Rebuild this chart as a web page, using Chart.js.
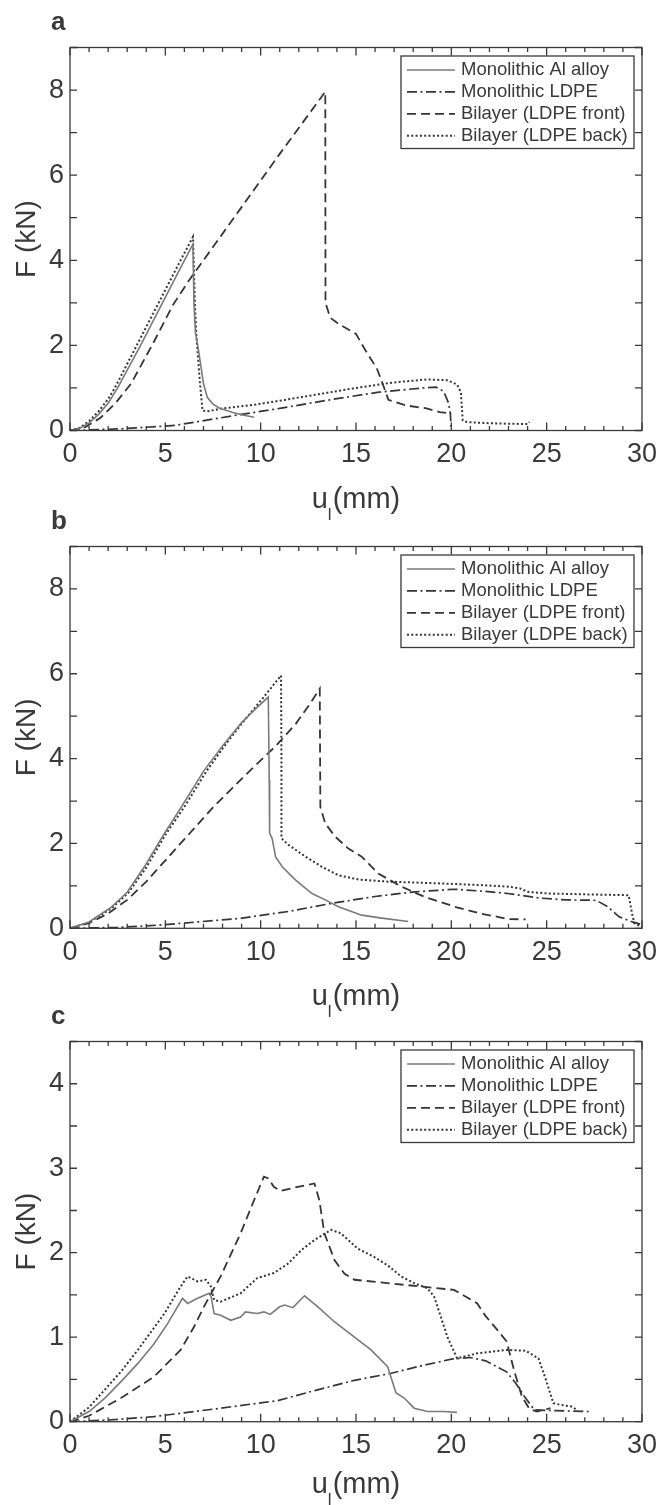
<!DOCTYPE html>
<html>
<head>
<meta charset="utf-8">
<script src="https://cdn.jsdelivr.net/npm/chart.js@4.4.1/dist/chart.umd.min.js"></script>
<style>
  body { margin: 0; background: #fff; width: 665px; height: 1505px; position: relative; overflow: hidden; }
  canvas { position: absolute; left: 0; }
</style>
</head>
<body>
<canvas id="panelA" width="665" height="525" style="top:0"></canvas>
<canvas id="panelB" width="665" height="525" style="top:498px"></canvas>
<canvas id="panelC" width="665" height="512" style="top:993px"></canvas>
<script>
// Force (kN) against displacement u_l (mm), pairs of [u, F]

const seriesNames = ['Monolithic Al alloy', 'Monolithic LDPE', 'Bilayer (LDPE front)', 'Bilayer (LDPE back)'];
const xTickLabels = [0, 5, 10, 15, 20, 25, 30];
const yTickLabelsAB = [0, 2, 4, 6, 8];
const yTickLabelsC = [0, 1, 2, 3, 4];

// panel a
const alloyA = [[0, 0], [0.5, 0.05], [1.0, 0.18], [1.5, 0.38], [2.0, 0.64], [2.5, 1.0], [3.7, 2.0], [4.85, 3.0],
  [6.0, 4.0], [6.45, 4.38], [6.5, 3.0], [6.58, 2.3], [6.7, 2.0], [6.87, 1.5], [7.0, 1.1], [7.2, 0.78],
  [7.5, 0.62], [7.82, 0.53], [8.5, 0.43], [9.0, 0.37], [9.65, 0.31]];
const ldpeA = [[0, 0], [2.7, 0.04], [5.5, 0.12], [8.6, 0.35], [11, 0.52], [14, 0.75], [16.2, 0.9], [18.5, 1.0],
  [19.2, 1.02], [19.6, 0.92], [19.85, 0.65], [19.95, 0.39], [20.0, 0]];
const frontA = [[0, 0], [0.8, 0.08], [1.6, 0.3], [2.4, 0.65], [3.2, 1.1], [4.3, 2.0], [5.4, 2.95], [6.2, 3.5],
  [7.0, 4.0], [8.6, 5.0], [11, 6.5], [13.39, 7.96], [13.4, 3.0], [13.65, 2.65], [14.1, 2.5], [15.0, 2.27],
  [15.5, 1.88], [16.1, 1.45], [16.4, 1.1], [16.7, 0.72], [17.6, 0.59], [18.7, 0.52], [19.4, 0.43], [20.0, 0.4]];
const backA = [[0, 0], [0.5, 0.06], [1.0, 0.22], [1.5, 0.45], [2.0, 0.74], [2.35, 1.0], [3.5, 2.0], [4.65, 3.0],
  [5.8, 4.0], [6.45, 4.55], [6.55, 3.0], [6.62, 2.3], [6.8, 1.2], [6.95, 0.47], [7.2, 0.45], [8.0, 0.52],
  [9.6, 0.6], [11, 0.7], [13, 0.85], [15, 1.0], [17, 1.13], [18.7, 1.2], [19.8, 1.18], [20.3, 1.08],
  [20.5, 0.9], [20.6, 0.24], [20.8, 0.2], [22, 0.17], [24.0, 0.15], [24.1, 0.2]];

// panel b
const alloyB = [[0, 0], [1, 0.15], [2.17, 0.5], [3.0, 0.85], [3.9, 1.45], [4.9, 2.2], [5.9, 2.9], [7.0, 3.7],
  [8.0, 4.3], [9.0, 4.85], [9.8, 5.2], [10.4, 5.45], [10.45, 3.5], [10.47, 2.24], [10.6, 2.12], [10.78, 1.69],
  [11.13, 1.45], [11.82, 1.14], [12.69, 0.82], [13.39, 0.67], [14.08, 0.51], [15.3, 0.31], [16.35, 0.24],
  [17.74, 0.16]];
const ldpeB = [[0, 0], [2.5, 0.02], [4.8, 0.08], [8.87, 0.23], [11.5, 0.4], [13.74, 0.59], [16, 0.75], [18.08, 0.86],
  [20.17, 0.92], [21.8, 0.87], [22.95, 0.82], [24.7, 0.71], [26, 0.67], [27.6, 0.66], [28.2, 0.51],
  [28.8, 0.27], [29.5, 0.15], [29.9, 0.1]];
const frontB = [[0, 0], [1, 0.12], [2, 0.35], [3, 0.67], [4, 1.1], [5.2, 1.7], [6.5, 2.35], [7.5, 2.85], [8.5, 3.3],
  [9.63, 3.8], [10.8, 4.3], [11.84, 4.82], [12.6, 5.3], [13.1, 5.65], [13.13, 2.86], [13.39, 2.47],
  [13.91, 2.16], [14.6, 1.88], [15.3, 1.69], [16.17, 1.29], [17.39, 0.98], [18.6, 0.74], [20.17, 0.51],
  [21.5, 0.35], [22.43, 0.27], [22.9, 0.22], [23.9, 0.21]];
const backB = [[0, 0], [1, 0.14], [2.2, 0.48], [3.05, 0.83], [3.95, 1.4], [5.0, 2.2], [6.05, 2.9], [7.15, 3.7],
  [8.1, 4.3], [9.05, 4.85], [10.07, 5.4], [11.07, 5.96], [11.09, 4.0], [11.09, 2.12], [11.48, 1.96],
  [12.35, 1.69], [13.21, 1.45], [14.08, 1.25], [15.13, 1.15], [16.7, 1.1], [19.3, 1.06], [21.5, 1.02],
  [23, 0.98], [23.6, 0.94], [24.0, 0.86], [25.1, 0.82], [27, 0.8], [29.3, 0.78], [29.5, 0.3], [29.6, 0.12],
  [29.9, 0.05]];

// panel c
const alloyC = [[0, 0], [1, 0.12], [1.83, 0.28], [2.7, 0.48], [3.56, 0.69], [4.4, 0.92], [5.12, 1.16], [5.9, 1.46],
  [6.17, 1.4], [6.69, 1.46], [7.3, 1.52], [7.4, 1.48], [7.56, 1.28], [7.9, 1.26], [8.43, 1.2], [8.95, 1.24],
  [9.2, 1.3], [9.82, 1.28], [10.17, 1.3], [10.5, 1.27], [11.0, 1.36], [11.26, 1.38], [11.69, 1.35],
  [12.3, 1.49], [13.0, 1.36], [13.88, 1.18], [14.92, 1.0], [15.79, 0.85], [16.66, 0.65], [17.1, 0.34],
  [17.53, 0.28], [18.05, 0.16], [18.75, 0.12], [19.6, 0.12], [20.3, 0.11]];
const ldpeC = [[0, 0], [2, 0.02], [4.4, 0.06], [7.9, 0.16], [10.9, 0.25], [12.69, 0.36], [14.92, 0.49], [16.8, 0.57],
  [18.2, 0.65], [20.0, 0.74], [21.0, 0.76], [21.8, 0.72], [22.9, 0.59], [23.4, 0.45], [23.8, 0.31],
  [24.35, 0.14], [25.5, 0.13], [27.2, 0.12]];
const frontC = [[0, 0], [1, 0.07], [2.67, 0.28], [4.4, 0.53], [5.8, 0.85], [6.5, 1.12], [7.02, 1.36], [7.9, 1.72],
  [8.95, 2.23], [9.65, 2.62], [10.17, 2.9], [10.4, 2.88], [10.69, 2.78], [11.03, 2.73], [11.95, 2.78],
  [12.82, 2.82], [13.08, 2.62], [13.34, 2.23], [13.88, 1.91], [14.4, 1.75], [14.92, 1.68], [16.66, 1.64],
  [18.4, 1.6], [20.14, 1.56], [21.36, 1.4], [21.8, 1.25], [22.4, 1.09], [22.9, 0.95], [23.3, 0.6],
  [23.7, 0.3], [24.1, 0.15], [24.5, 0.12], [25.2, 0.16]];
const backC = [[0, 0], [1, 0.17], [1.83, 0.38], [2.7, 0.6], [3.56, 0.85], [4.95, 1.28], [5.8, 1.6], [6.17, 1.72],
  [6.69, 1.66], [7.13, 1.68], [7.39, 1.6], [7.56, 1.44], [7.9, 1.42], [8.95, 1.52], [9.82, 1.7],
  [10.69, 1.76], [11.43, 1.87], [12.13, 2.03], [12.82, 2.15], [13.69, 2.27], [14.21, 2.23], [15.08, 2.05],
  [15.95, 1.95], [16.66, 1.85], [17.36, 1.72], [18.05, 1.64], [18.75, 1.58], [19.1, 1.48], [19.45, 1.24],
  [19.8, 1.0], [20.3, 0.75], [21.36, 0.81], [22.9, 0.85], [23.9, 0.84], [24.57, 0.75], [25.0, 0.47],
  [25.35, 0.22], [25.7, 0.2], [26.3, 0.18], [26.6, 0.14]];

const ink = '#3a3a3a';
const fontFamily = "'Liberation Sans', Arial, Helvetica, sans-serif";
const lineStyles = [
  { color: '#7a7a7a', width: 1.6, dash: [] },
  { color: '#353535', width: 1.7, dash: [10, 3.5, 2, 3.5] },
  { color: '#353535', width: 1.8, dash: [9, 5] },
  { color: '#353535', width: 2, dash: [2, 2.3] }
];

Chart.defaults.font.family = fontFamily;
Chart.defaults.color = ink;

// box, inward ticks, legend, x title and panel letter
const frame = {
  id: 'frame',
  afterDraw(chart, args, opts) {
    const { ctx, chartArea: ca, scales: { x, y } } = chart;
    ctx.save();
    ctx.strokeStyle = ink;
    ctx.lineWidth = 1.3;
    ctx.setLineDash([]);
    ctx.beginPath();
    x.ticks.forEach(t => {
      const px = x.getPixelForValue(t.value);
      const len = t.value % 5 === 0 ? 8 : 4.5;
      ctx.moveTo(px, ca.bottom); ctx.lineTo(px, ca.bottom - len);
      ctx.moveTo(px, ca.top); ctx.lineTo(px, ca.top + len);
    });
    y.ticks.forEach(t => {
      const py = y.getPixelForValue(t.value);
      ctx.moveTo(ca.left, py); ctx.lineTo(ca.left + 7, py);
      ctx.moveTo(ca.right, py); ctx.lineTo(ca.right - 7, py);
    });
    ctx.stroke();
    ctx.strokeRect(ca.left, ca.top, ca.right - ca.left, ca.bottom - ca.top);

    // legend
    const bx = ca.right - 241, by = ca.top + 8.5, bw = 233, bh = 92.5;
    ctx.fillStyle = '#fff';
    ctx.fillRect(bx, by, bw, bh);
    ctx.lineWidth = 1.3;
    ctx.strokeRect(bx, by, bw, bh);
    ctx.font = '18.5px ' + fontFamily;
    ctx.textBaseline = 'middle';
    ctx.textAlign = 'left';
    chart.data.datasets.forEach((ds, i) => {
      const ry = by + 14 + i * 21.9;
      ctx.beginPath();
      ctx.strokeStyle = ds.borderColor;
      ctx.lineWidth = ds.borderWidth;
      ctx.setLineDash(ds.borderDash);
      ctx.moveTo(bx + 6, ry); ctx.lineTo(bx + 54, ry);
      ctx.stroke();
      ctx.fillStyle = ink;
      ctx.fillText(ds.label, bx + 60, ry);
    });
    ctx.setLineDash([]);

    // x title: u with subscript l, then (mm)
    const big = '29px ' + fontFamily, small = '17px ' + fontFamily;
    ctx.font = big;
    const wU = ctx.measureText('u').width, wMM = ctx.measureText('(mm)').width;
    ctx.font = small;
    const wL = ctx.measureText('l').width + 1;
    const base = ca.bottom + opts.titleOffset;
    let tx = (ca.left + ca.right) / 2 - (wU + wL + wMM) / 2;
    ctx.fillStyle = ink;
    ctx.textBaseline = 'alphabetic';
    ctx.font = big;
    ctx.fillText('u', tx, base);
    tx += wU;
    ctx.font = small;
    ctx.fillText('l', tx, base + 12);
    tx += wL;
    ctx.font = big;
    ctx.fillText('(mm)', tx, base);

    // panel letter
    ctx.font = 'bold 26px ' + fontFamily;
    ctx.fillText(opts.letter, 51, ca.top - 18);
    ctx.restore();
  }
};

function makePanel(id, letter, series, yMax, yStep, yLabels, areaTop, areaBottom, titleOffset) {
  const canvas = document.getElementById(id);
  const h = canvas.height;
  new Chart(canvas, {
    type: 'scatter',
    data: {
      datasets: series.map((pts, i) => ({
        label: seriesNames[i],
        data: pts.map(([u, f]) => ({ x: u, y: f })),
        showLine: true,
        borderColor: lineStyles[i].color,
        borderWidth: lineStyles[i].width,
        borderDash: lineStyles[i].dash,
        pointRadius: 0,
        fill: false,
        tension: 0
      }))
    },
    options: {
      responsive: false,
      animation: false,
      events: [],
      layout: { padding: { top: areaTop, right: 20, left: 0, bottom: 0 } },
      plugins: {
        legend: { display: false },
        tooltip: { enabled: false },
        frame: { letter: letter, titleOffset: titleOffset }
      },
      scales: {
        x: {
          type: 'linear', min: 0, max: 30,
          grid: { display: false, drawTicks: false },
          border: { display: false },
          ticks: {
            stepSize: 1, autoSkip: false, maxRotation: 0, padding: 8, color: ink,
            font: { size: 27 },
            callback: v => xTickLabels.includes(v) ? v : ''
          },
          afterFit: s => { s.height = h - areaBottom; }
        },
        y: {
          type: 'linear', min: 0, max: yMax,
          grid: { display: false, drawTicks: false },
          border: { display: false },
          ticks: {
            stepSize: yStep, autoSkip: false, padding: 6, color: ink,
            font: { size: 27 },
            callback: v => yLabels.includes(v) ? v : ''
          },
          title: {
            display: true, text: 'F (kN)', color: ink,
            font: { size: 28 },
            padding: { top: 10, bottom: 0 }
          },
          afterFit: s => { s.width = 70; }
        }
      }
    },
    plugins: [frame]
  });
}

makePanel('panelA', 'a', [alloyA, ldpeA, frontA, backA], 9, 1, yTickLabelsAB, 47.5, 430.5, 77);
makePanel('panelB', 'b', [alloyB, ldpeB, frontB, backB], 9, 1, yTickLabelsAB, 48.5, 430.3, 77);
makePanel('panelC', 'c', [alloyC, ldpeC, frontC, backC], 4.5, 0.5, yTickLabelsC, 48.5, 428.7, 71);
</script>
</body>
</html>
